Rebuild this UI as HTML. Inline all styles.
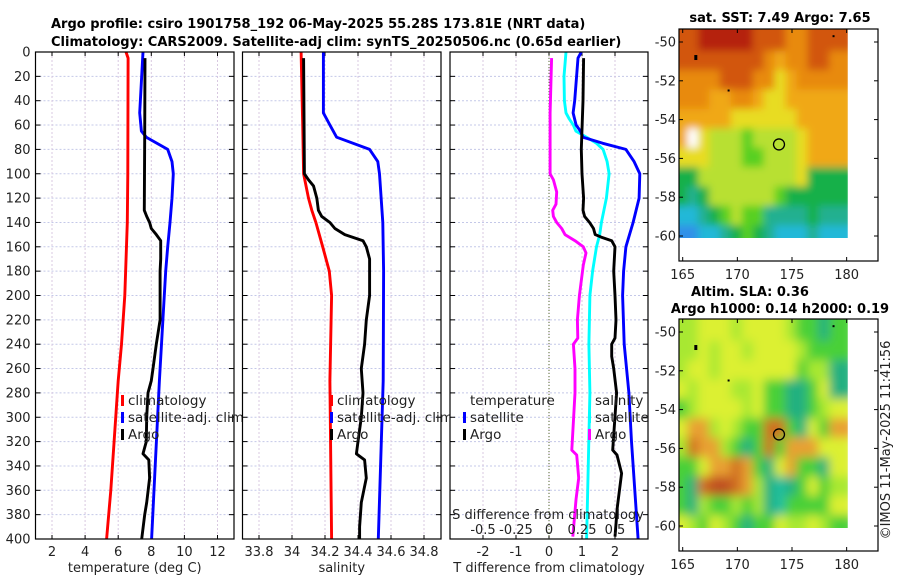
<!DOCTYPE html>
<html><head><meta charset="utf-8"><style>
body{margin:0;background:#fff;}
svg{display:block;font-family:"DejaVu Sans","Liberation Sans",sans-serif;}
</style></head><body>
<svg id="fig" width="900" height="580" viewBox="0 0 900 580">
<g id="titles" font-weight="bold" font-size="13" fill="#000">
<text x="51" y="28">Argo profile: csiro 1901758_192 06-May-2025 55.28S 173.81E (NRT data)</text>
<text x="51" y="46">Climatology: CARS2009. Satellite-adj clim: synTS_20250506.nc (0.65d earlier)</text>
<text x="780" y="22" text-anchor="middle">sat. SST: 7.49 Argo: 7.65</text>
<text x="750" y="296" text-anchor="middle">Altim. SLA: 0.36</text>
<text x="780" y="313" text-anchor="middle">Argo h1000: 0.14 h2000: 0.19</text>
</g>
<text x="890" y="440" font-size="13" fill="#222" text-anchor="middle" transform="rotate(-90 890 440)">©IMOS 11-May-2025 11:41:56</text>
</svg>
<script>
// ---------- DATA ----------
const depthTicks=[0,20,40,60,80,100,120,140,160,180,200,220,240,260,280,300,320,340,360,380,400];
const tTicks=[2,4,6,8,10,12];
const sTicks=[33.8,34,34.2,34.4,34.6,34.8];
const tdTicks=[-2,-1,0,1,2];
const sdTickLabels=["-0.5","-0.25","0","0.25","0.5"];
const sdTicks=[-0.5,-0.25,0,0.25,0.5];

const climTDepth=[0,5,100,140,200,240,270,320,360,400];
const climT=[6.47,6.6,6.58,6.55,6.4,6.2,6.0,5.75,5.55,5.3];
const satTDepth=[0,50,65,70,80,90,100,120,140,160,180,270,400];
const satT=[7.5,7.3,7.4,7.7,8.99,9.25,9.33,9.25,9.13,8.99,8.87,8.49,8.02];
const argoTDepth=[5,70,130,135,140,145,150,155,170,180,220,240,260,270,280,300,320,330,335,350,370,380,400];
const argoT=[7.62,7.6,7.58,7.72,7.9,8.0,8.3,8.57,8.57,8.53,8.53,8.3,8.1,8.0,7.8,7.72,7.7,7.5,7.85,7.9,7.72,7.6,7.42];

const climSDepth=[0,60,100,120,130,140,160,180,200,270,400];
const climS=[34.055,34.065,34.07,34.1,34.12,34.145,34.186,34.226,34.24,34.23,34.24];
const satSDepth=[0,50,60,70,80,90,100,140,180,270,400];
const satS=[34.19,34.19,34.23,34.27,34.47,34.52,34.53,34.55,34.555,34.553,34.523];
const argoSDepth=[5,100,105,110,120,130,135,140,145,150,155,160,170,200,220,240,260,280,300,320,330,335,350,370,390,400];
const argoS=[34.07,34.075,34.1,34.13,34.15,34.16,34.18,34.23,34.26,34.32,34.43,34.45,34.47,34.47,34.45,34.44,34.42,34.43,34.42,34.4,34.39,34.44,34.45,34.42,34.41,34.41];

const satTdDepth=[0,5,40,50,60,65,70,75,80,90,100,120,140,160,180,200,240,280,320,360,400];
const satTd=[0.98,0.88,0.78,0.73,0.82,0.95,1.03,1.63,2.33,2.58,2.75,2.73,2.55,2.33,2.26,2.23,2.28,2.42,2.5,2.6,2.7];
const argoTdDepth=[5,40,80,100,120,130,135,140,145,150,152,155,160,180,200,220,235,240,250,260,280,327,331,346,374,398];
const argoTd=[1.05,1.03,0.98,1.0,1.05,1.03,1.08,1.23,1.35,1.4,1.58,1.9,2.0,1.96,2.0,2.03,2.0,1.9,1.9,1.96,2.05,1.93,2.06,2.2,2.07,2.0];
const satSdDepth=[0,20,40,50,55,60,65,70,75,80,90,100,120,140,150,160,180,200,240,280,400];
const satSd=[0.129,0.114,0.117,0.129,0.154,0.184,0.204,0.285,0.36,0.41,0.44,0.455,0.435,0.397,0.384,0.36,0.33,0.31,0.302,0.31,0.285];
const argoSdDepth=[5,50,100,105,115,125,130,135,140,145,150,155,160,165,175,200,220,235,240,260,280,327,331,350,367,398];
const argoSd=[0.02,0.008,0.008,0.033,0.058,0.053,0.028,0.033,0.058,0.096,0.121,0.197,0.26,0.28,0.26,0.23,0.215,0.218,0.185,0.197,0.197,0.173,0.21,0.225,0.205,0.18];

const latTicks=[-50,-52,-54,-56,-58,-60];
const lonTicks=[165,170,175,180];
const argoLon=173.81, argoLat=-55.28;
const sstPalette=["#b5200f","#d2560a","#e88a0c","#f0a818","#e8dc20","#b8e030","#58d020","#18b048","#20b090","#20b8d8","#3090e8"];
const sstGrid=[
[1,1,0,0,0,0,0,1,1,1,2,2,1,1,1],
[1,1,1,1,1,1,1,1,2,3,2,2,1,1,2],
[2,2,2,2,1,1,1,2,2,4,3,2,2,2,2],
[2,2,2,3,3,2,2,3,4,4,3,3,3,3,3],
[3,3,3,3,3,4,4,4,4,4,4,3,3,3,3],
[3,-1,4,5,5,5,6,5,5,5,5,4,3,3,3],
[4,4,4,5,5,5,6,6,5,5,5,4,3,3,3],
[7,7,5,5,5,5,5,5,5,5,5,4,7,7,7],
[7,8,7,5,5,5,5,5,5,6,7,7,7,7,7],
[9,9,8,7,6,5,6,6,8,8,8,8,7,8,8],
[10,10,9,9,8,7,6,7,8,9,9,9,8,9,9]];
const slaPalette=["#dcf030","#a8e830","#48d038","#20b080","#20c0a0","#e8a030","#d07020","#c05020"];
const slaGrid=[
[1,1,0,0,0,1,0,0,0,0,1,2,2,3,2],
[1,1,0,1,0,0,1,0,0,0,0,1,2,2,2],
[1,0,0,1,0,0,0,0,0,0,0,2,1,1,3],
[0,1,0,0,0,1,1,0,2,2,3,3,2,0,3],
[2,1,0,0,0,0,1,0,2,2,3,3,2,1,0],
[0,5,5,1,0,1,2,2,6,6,2,3,0,2,5],
[1,6,5,5,1,2,3,2,6,2,5,5,5,0,0],
[2,2,0,5,5,6,5,2,3,0,5,2,2,3,0],
[2,3,6,7,7,6,5,1,3,4,3,2,0,2,1],
[2,3,1,2,2,1,2,1,3,4,2,2,2,2,0],
[0,1,2,0,1,2,3,2,2,0,1,1,0,1,2]];

// ---------- DRAW ----------
const NS="http://www.w3.org/2000/svg";
const svg=document.getElementById('fig');
function mk(tag,attrs,parent){const e=document.createElementNS(NS,tag);for(const k in attrs)e.setAttribute(k,attrs[k]);(parent||svg).appendChild(e);return e;}
const yTop=52,yScale=1.2175;
function yD(d){return yTop+d*yScale;}
const yBot=yD(400);
const panels=[
 {name:'temperature-panel',x0:35.5,x1:234,f:v=>52+(v-2)*16.55,ticks:tTicks,labels:tTicks.map(String),xlabel:'temperature (deg C)'},
 {name:'salinity-panel',x0:242.5,x1:441,f:v=>259+(v-33.8)*165,ticks:sTicks,labels:sTicks.map(String),xlabel:'salinity'},
 {name:'difference-panel',x0:450,x1:648,f:v=>549+v*33,ticks:tdTicks,labels:tdTicks.map(String),xlabel:'T difference from climatology'}];
const fSd=v=>549+v*132;

panels.forEach((p,pi)=>{
 const g=mk('g',{});
 
 
 mk('rect',{x:p.x0,y:yTop,width:p.x1-p.x0,height:yBot-yTop,fill:'#fff'},g);
 depthTicks.forEach(d=>{
  if(d>0&&d<400){const l=mk('line',{x1:p.x0,x2:p.x1,y1:yD(d),y2:yD(d),stroke:'#c4c8e8','stroke-width':1,'stroke-dasharray':'2,2'},g);
  }
  mk('line',{x1:p.x0,x2:p.x0+5,y1:yD(d),y2:yD(d),stroke:'#000'},g);
  mk('line',{x1:p.x1-5,x2:p.x1,y1:yD(d),y2:yD(d),stroke:'#000'},g);
  if(pi===0){const t=mk('text',{x:p.x0-5,y:yD(d)+4.5,'text-anchor':'end','font-size':13,fill:'#222'},g);t.textContent=d;
   }
 });
 p.ticks.forEach((v,i)=>{
  const x=p.f(v);
  const l=mk('line',{x1:x,x2:x,y1:yTop,y2:yBot,stroke:'#d8c8e0','stroke-width':1,'stroke-dasharray':'2,2'},g);
  
  mk('line',{x1:x,x2:x,y1:yBot,y2:yBot-4,stroke:'#000'},g);
  mk('line',{x1:x,x2:x,y1:yTop,y2:yTop+4,stroke:'#000'},g);
  const t=mk('text',{x:x,y:556,'text-anchor':'middle','font-size':13,fill:'#222'},g);t.textContent=p.labels[i];
  
 });
 const xl=mk('text',{x:(p.x0+p.x1)/2,y:572,'text-anchor':'middle','font-size':13,fill:'#222'},g);xl.textContent=p.xlabel;
 
 p.g=g;
});
const z=mk('line',{x1:549,x2:549,y1:yTop,y2:yBot,stroke:'#556b2f','stroke-width':1,'stroke-dasharray':'1,2'},panels[2].g);


function series(g,depths,vals,f,color,name){
 const pts=depths.map((d,i)=>f(vals[i]).toFixed(1)+','+yD(d).toFixed(1)).join(' ');
 const pl=mk('polyline',{points:pts,fill:'none',stroke:color,'stroke-width':2.9,'stroke-linejoin':'round'},g);
 
 
}
series(panels[0].g,climTDepth,climT,panels[0].f,'#ff0000','climatology-temperature-line');
series(panels[0].g,satTDepth,satT,panels[0].f,'#0000ff','satellite-temperature-line');
series(panels[0].g,argoTDepth,argoT,panels[0].f,'#000000','argo-temperature-line');
series(panels[1].g,climSDepth,climS,panels[1].f,'#ff0000','climatology-salinity-line');
series(panels[1].g,satSDepth,satS,panels[1].f,'#0000ff','satellite-salinity-line');
series(panels[1].g,argoSDepth,argoS,panels[1].f,'#000000','argo-salinity-line');
series(panels[2].g,argoSdDepth,argoSd,fSd,'#ff00ff','argo-salinity-diff-line');
series(panels[2].g,satSdDepth,satSd,fSd,'#00ffff','satellite-salinity-diff-line');
series(panels[2].g,satTdDepth,satTd,panels[2].f,'#0000ff','satellite-temperature-diff-line');
series(panels[2].g,argoTdDepth,argoTd,panels[2].f,'#000000','argo-temperature-diff-line');

{const g=panels[2].g;
 const t=mk('text',{x:548,y:519,'text-anchor':'middle','font-size':13,fill:'#222'},g);t.textContent='S difference from climatology';
 
 sdTicks.forEach((v,i)=>{const tt=mk('text',{x:fSd(v),y:534,'text-anchor':'middle','font-size':13,fill:'#222'},g);tt.textContent=sdTickLabels[i];
  });
}
panels.forEach(p=>{mk('rect',{x:p.x0,y:yTop,width:p.x1-p.x0,height:yBot-yTop,fill:'none',stroke:'#000','stroke-width':1.2},p.g);});

function legend(g,x,y,color,label){
 const lg=mk('g',{},g);
 
 
 if(color)mk('rect',{x:x,y:y-10,width:3,height:11,fill:color},lg);
 const t=mk('text',{x:x+7,y:y,'font-size':13.5,fill:'#222'},lg);t.textContent=label;
}
legend(panels[0].g,121,405,'#ff0000','climatology');
legend(panels[0].g,121,422,'#0000ff','satellite-adj. clim');
legend(panels[0].g,121,439,'#000000','Argo');
legend(panels[1].g,330,405,'#ff0000','climatology');
legend(panels[1].g,330,422,'#0000ff','satellite-adj. clim');
legend(panels[1].g,330,439,'#000000','Argo');
legend(panels[2].g,463,405,null,'temperature');
legend(panels[2].g,463,422,'#0000ff','satellite');
legend(panels[2].g,463,439,'#000000','Argo');
legend(panels[2].g,588,405,null,'salinity');
legend(panels[2].g,588,422,'#00ffff','satellite');
legend(panels[2].g,588,439,'#ff00ff','Argo');

function drawMap(name,top,grid,pal,blur,id){
 const left=679,right=878,lonX=l=>682.7+(l-165)*10.93;
 const latY=la=>top+13+(-50-la)*19.4;
 const bottom=top+232;
 const g=mk('g',{});
 
 
 mk('rect',{x:left,y:top,width:right-left,height:bottom-top,fill:'#fff'},g);
 const defs=mk('defs',{},g);
 const cp=mk('clipPath',{id:'cp'+id},defs);
 mk('rect',{x:left,y:top,width:lonX(180.1)-left,height:latY(-60.1)-top},cp);
 const fl=mk('filter',{id:'bl'+id,x:'-10%',y:'-10%',width:'120%',height:'120%'},defs);
 mk('feGaussianBlur',{stdDeviation:blur},fl);
 const outer=mk('g',{'clip-path':'url(#cp'+id+')'},g);
 const cells=mk('g',{filter:'url(#bl'+id+')'},outer);
 grid.forEach((row,r)=>row.forEach((c,ci)=>{
  const la=-50-r, lo=165+ci;
  const x=lonX(lo-0.5),y=latY(la+0.5);
  const w=(ci===0?12:0), h=(r===0?12:0);
  const rc=mk('rect',{x:x-1-w,y:y-1-h,width:10.93+2+w+(ci===row.length-1?12:0),height:19.4+2+h+(r===grid.length-1?12:0),fill:c<0?'#fff':pal[c]},cells);
  
  
 }));
 [[166.2,-50.8,3,5],[169.2,-52.5,2,2],[178.8,-49.7,2,2]].forEach(s=>{mk('rect',{x:lonX(s[0])-s[2]/2,y:latY(s[1])-s[3]/2,width:s[2],height:s[3],fill:'#000'},g);});
 const c=mk('circle',{cx:lonX(argoLon),cy:latY(argoLat),r:5.5,fill:'none',stroke:'#000','stroke-width':1.3},g);
 
 mk('rect',{x:left,y:top,width:right-left,height:bottom-top,fill:'none',stroke:'#000','stroke-width':1.2},g);
 latTicks.forEach(la=>{const y=latY(la);
  mk('line',{x1:left,x2:left+4,y1:y,y2:y,stroke:'#000'},g);mk('line',{x1:right-4,x2:right,y1:y,y2:y,stroke:'#000'},g);
  const t=mk('text',{x:left-3,y:y+4.5,'text-anchor':'end','font-size':13,fill:'#222'},g);t.textContent=la;
  });
 lonTicks.forEach(lo=>{const x=lonX(lo);
  mk('line',{x1:x,x2:x,y1:bottom,y2:bottom-4,stroke:'#000'},g);mk('line',{x1:x,x2:x,y1:top,y2:top+4,stroke:'#000'},g);
  const t=mk('text',{x:x,y:bottom+18,'text-anchor':'middle','font-size':13,fill:'#222'},g);t.textContent=lo;
  });
}
drawMap('sst-map',29,sstGrid,sstPalette,4,1);
drawMap('sla-map',319,slaGrid,slaPalette,5,2);
</script>
</body></html>
